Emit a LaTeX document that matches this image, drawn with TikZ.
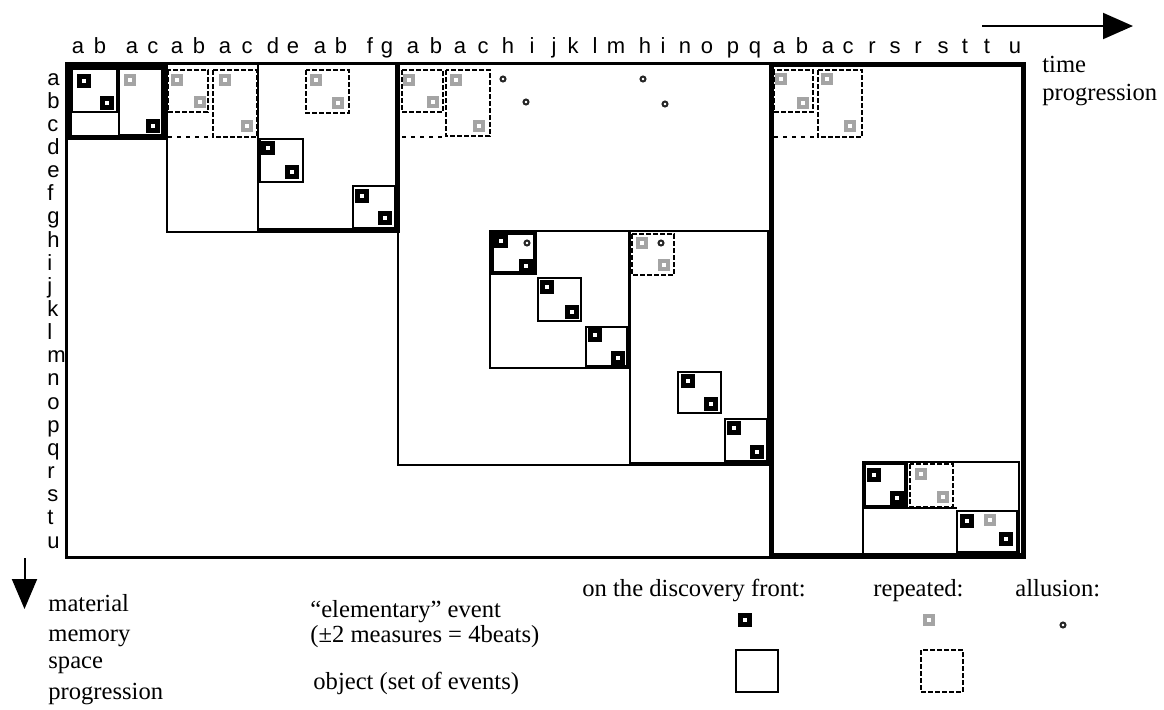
\documentclass[tikz,border=0pt]{standalone}
\usepackage{fontspec}
\setmainfont{Liberation Serif}
\newfontfamily\labfont{Liberation Sans}
\usetikzlibrary{arrows.meta}
\definecolor{repgray}{HTML}{A4A4A4}
\begin{document}
\begin{tikzpicture}[x=0.5pt,y=-0.5pt,
  box/.style={draw, line width=1.15pt},
  repbox/.style={draw, line width=1.1pt, dash pattern=on 2.5pt off 1pt},
  dotline/.style={draw, line width=1.1pt, dash pattern=on 2pt off 2.5pt},
  evb/.style={rectangle, draw=black, fill=white, line width=2.4pt, minimum size=4.6pt, inner sep=0pt},
  evg/.style={rectangle, draw=repgray, fill=white, line width=2.1pt, minimum size=4.2pt, inner sep=0pt},
  allu/.style={circle, draw=black!85, fill=white, line width=1pt, minimum size=2.5pt, inner sep=0pt},
  lab/.style={font=\labfont\fontsize{11}{12}\selectfont, inner sep=0pt, anchor=base},
  rowlab/.style={lab, anchor=base west},
  txt/.style={font=\fontsize{12.3}{14}\selectfont, inner sep=0pt, anchor=base west},
  arr/.style={draw, line width=1pt}
]
\useasboundingbox (0,0) rectangle (1164,709);

% column labels
\foreach \x/\l [count=\i] in {78/a,100/b,132/a,153/c,177/a,199/b,225/a,247/c,273/d,293/e,320/a,341/b,370/f,387/g,413/a,436/b,460/a,483/c,508/h,532/i,554/j,573/k,595/l,616/m,645/h,663/i,685/n,707/o,733/p,755/q,779/a,802/b,828/a,848/c,872/r,895/s,918/r,943/s,965/t,987/t,1015/u}
  \node[lab] (col\i) at (\x,53) {\l};
% row labels
\foreach \l [count=\i from 0] in {a,b,c,d,e,f,g,h,i,j,k,l,m,n,o,p,q,r,s,t,u}
  \node[rowlab] (row\l) at (47,{85+23.15*\i}) {\l};

% outer frame
\draw[line width=1.5pt] (66.5,63.5) rectangle (1024,557);

% object A (abac, discovery)
\draw[line width=2.5pt] (69.5,65.5) rectangle (164.5,137.5);
\draw[box] (72,69) rectangle (117,112);
\draw[box] (119,69) rectangle (162,135);

% object B
\draw[box] (167,63) rectangle (398,232);
\draw[repbox] (168,70) rectangle (208,112);
\draw[repbox] (213,70) rectangle (257,137);
\draw[dotline] (168,137) -- (213,137);

% object C (deabfg)
\draw[box] (258,63) rectangle (398,232);
\draw[line width=2.5pt] (258,230) -- (397,230) -- (397,63);
\draw[repbox] (306,70) rectangle (349,113);
\draw[box] (260,139) rectangle (303,182);
\draw[box] (353,186) rectangle (395,228);

% object D
\draw[line width=1.25pt] (398,63) rectangle (770,465);
\draw[repbox] (402,70) rectangle (443,112);
\draw[repbox] (446,70) rectangle (490,136);
\draw[dotline] (402,137) -- (446,137);

% object F (hijklm)
\draw[box] (490,231) rectangle (629,368);
\draw[line width=1.6pt] (492.5,233.5) rectangle (535,273);
\draw[box] (538,278) rectangle (581,321);
\draw[box] (586,327) rectangle (627,366);

% object G (hinopq)
\draw[line width=1.3pt] (630,231) rectangle (770,465);
\draw[line width=2pt] (630,463.5) -- (769,463.5) -- (769,231);
\draw[repbox] (632,234) rectangle (674,275);
\draw[box] (678,372) rectangle (721,413);
\draw[box] (725,419) rectangle (767,461);

% object E
\draw[line width=2.25pt] (771.5,65) rectangle (1023,555);
\draw[repbox] (774,70) rectangle (813,112);
\draw[repbox] (818,70) rectangle (862,137);
\draw[dotline] (774,137) -- (818,137);

% object H (rsrsttu)
\draw[box] (863,462) rectangle (1019,555);
\draw[line width=1.6pt] (864.5,463.5) rectangle (906,507);
\draw[repbox] (910,464) rectangle (953,507);
\draw[box] (863,508) -- (957,508);
\draw[box] (957,511) rectangle (1017,552);

% events
\node[evb] (a1) at (84,81) {};
\node[evb] (a2) at (107,103) {};
\node[evg] (a3) at (130,80) {};
\node[evb] (a4) at (153,126) {};
\node[evg] (b1) at (177,80) {};
\node[evg] (b2) at (200,102) {};
\node[evg] (b3) at (225,80) {};
\node[evg] (b4) at (247,126) {};
\node[evg] (c1) at (316,80) {};
\node[evg] (c2) at (338,103) {};
\node[evb] (c3) at (268,148) {};
\node[evb] (c4) at (292,172) {};
\node[evb] (c5) at (362,196) {};
\node[evb] (c6) at (385,218) {};
\node[evg] (d1) at (409,80) {};
\node[evg] (d2) at (433,102) {};
\node[evg] (d3) at (456,80) {};
\node[evg] (d4) at (479,126) {};
\node[allu] (d5) at (503,79) {};
\node[allu] (d6) at (526,102) {};
\node[allu] (d7) at (643,79) {};
\node[allu] (d8) at (665,104) {};
\node[evb] (f1) at (501,241) {};
\node[evb] (f2) at (526,266) {};
\node[allu] (f3) at (527,243) {};
\node[evb] (f4) at (547,287) {};
\node[evb] (f5) at (572,312) {};
\node[evb] (f6) at (595,335) {};
\node[evb] (f7) at (618,358) {};
\node[evg] (g1) at (642,243) {};
\node[evg] (g2) at (664,265) {};
\node[allu] (g3) at (661,243) {};
\node[evb] (g4) at (688,381) {};
\node[evb] (g5) at (711,404) {};
\node[evb] (g6) at (734,428) {};
\node[evb] (g7) at (757,452) {};
\node[evg] (h1) at (781,79) {};
\node[evg] (h2) at (803,103) {};
\node[evg] (h3) at (827,79) {};
\node[evg] (h4) at (850,126) {};
\node[evb] (k1) at (874,475) {};
\node[evb] (k2) at (897,498) {};
\node[evg] (k3) at (921,474) {};
\node[evg] (k4) at (943,497) {};
\node[evb] (k5) at (967,521) {};
\node[evg] (k6) at (990,520) {};
\node[evb] (k7) at (1006,539) {};

% time arrow
\coordinate (ta) at (982,26);
\coordinate (tb) at (1133,26);
\draw[arr, -{Triangle[length=15pt,width=13pt]}] (ta) -- (tb);
\node[txt] (time) at (1042,72) {time};
\node[txt] (timeprog) at (1042,100) {progression};

% space arrow
\coordinate (sa) at (24.5,558);
\coordinate (sb) at (24.5,609);
\draw[arr, -{Triangle[length=15pt,width=12.5pt]}] (sa) -- (sb);
\node[txt] (mat) at (48,611) {material};
\node[txt] (mem) at (48,641) {memory};
\node[txt] (spc) at (48,668) {space};
\node[txt] (spprog) at (48,699) {progression};

% legend
\node[txt] (elem) at (310,617) {“elementary” event};
\node[txt] (meas) at (310,642) {(±2 measures = 4beats)};
\node[txt] (objt) at (313,689) {object (set of events)};
\node[txt] (front) at (582,596) {on the discovery front:};
\node[txt] (repd) at (873,596) {repeated:};
\node[txt] (allt) at (1015,596) {allusion:};
\node[evb] (L1) at (745,620) {};
\node[evg] (L2) at (929,620) {};
\node[allu] (L3) at (1063,625) {};
\draw[box] (736,650) rectangle (778,692);
\draw[repbox] (921,650) rectangle (963,692);
\end{tikzpicture}
\end{document}
